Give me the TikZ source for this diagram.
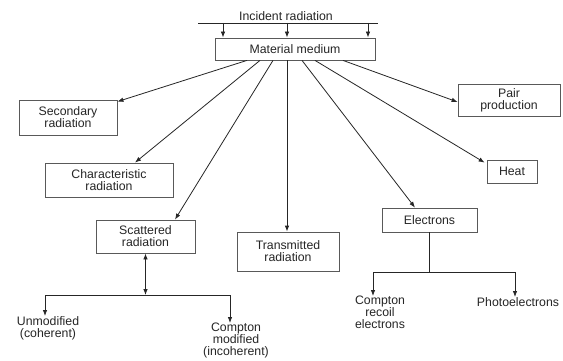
\documentclass[tikz,border=0pt]{standalone}
\usepackage{fontspec}
\setmainfont{Liberation Sans}
\usetikzlibrary{arrows.meta,calc}
\begin{document}
\begin{tikzpicture}[x=1pt,y=1pt,
  every node/.style={font=\fontsize{12.3}{12}\selectfont, text=black!85},
  box/.style={draw=black!65, line width=0.8pt, align=center, inner sep=0pt},
  lbl/.style={align=center, inner sep=0pt},
  conn/.style={draw=black!85, line width=0.8pt},
  arr/.style={conn, -{Latex[length=6pt,width=4.5pt]}},
  darr/.style={conn, {Latex[length=6pt,width=4.5pt]}-{Latex[length=6pt,width=4.5pt]}}]
\useasboundingbox[fill=white] (0,0) rectangle (563,-361);

% top
\node[lbl] (inc) at (286,-16) {Incident radiation};
\node[box, minimum width=160pt, minimum height=22pt] (mm) at (295,-49) {Material medium};
\coordinate (il) at (198,-23);
\coordinate (ir) at (378,-23);
\draw[conn] (il) -- (ir);
\draw[arr] (il -| 223,0) -- (mm.north -| 223,0);
\draw[arr] (il -| 287,0) -- (mm.north -| 287,0);
\draw[arr] (il -| 368,0) -- (mm.north -| 368,0);

% boxes
\node[box, minimum width=98pt, minimum height=35pt] (sec) at (68,-117.5) {Secondary\\radiation};
\node[box, minimum width=128pt, minimum height=34pt] (chr) at (109,-180) {Characteristic\\radiation};
\node[box, minimum width=99pt, minimum height=33pt] (sc) at (145.5,-236.5) {Scattered\\radiation};
\node[box, minimum width=102pt, minimum height=39pt] (tr) at (288,-251.5) {Transmitted\\radiation};
\node[box, minimum width=95pt, minimum height=24pt] (el) at (429.5,-220) {Electrons};
\node[box, minimum width=102pt, minimum height=32pt] (pair) at (509,-100) {Pair\\production};
\node[box, minimum width=50pt, minimum height=23pt] (heat) at (512,-171.5) {Heat};

% fan
\draw[arr] ($(mm.south)+(-48,0)$) -- ($(sec.north east)+(0,-2)$);
\draw[arr] ($(mm.south)+(-35,0)$) -- ($(chr.north)+(26,0)$);
\draw[arr] ($(mm.south)+(-22,0)$) -- ($(sc.north)+(29.5,0)$);
\draw[arr] ($(mm.south)+(-8,0)$) -- (tr.north -| 287,0);
\draw[arr] ($(mm.south)+(7,0)$) -- ($(el.north)+(-14.5,0)$);
\draw[arr] ($(mm.south)+(20,0)$) -- ($(heat.north west)+(-2,-3)$);
\draw[arr] ($(mm.south)+(48,0)$) -- ($(pair.west)+(0,-2)$);

% scattered branch
\coordinate (sj) at (145.5,-295);
\coordinate (sl) at (45,-295);
\coordinate (sr) at (230,-295);
\draw[darr] (sc.south) -- (sj);
\draw[conn] (sl) -- (sr);
\node[lbl, anchor=north] (unm) at (48,-316) {Unmodified\\(coherent)};
\node[lbl, anchor=north] (cmp) at (236,-323) {Compton\\modified\\(incoherent)};
\draw[arr] (sl) -- (sl |- unm.north);
\draw[arr] (sr) -- (sr |- cmp.north);

% electrons branch
\coordinate (ej) at (429.5,-272);
\coordinate (el1) at (373,-272);
\coordinate (er1) at (515,-272);
\draw[conn] (el.south) -- (ej);
\draw[conn] (el1) -- (er1);
\node[lbl, anchor=north] (cre) at (380,-296) {Compton\\recoil\\electrons};
\node[lbl, anchor=north] (pho) at (518,-297) {Photoelectrons};
\draw[arr] (el1) -- (el1 |- cre.north);
\draw[arr] (er1) -- (er1 |- pho.north);
\end{tikzpicture}
\end{document}
